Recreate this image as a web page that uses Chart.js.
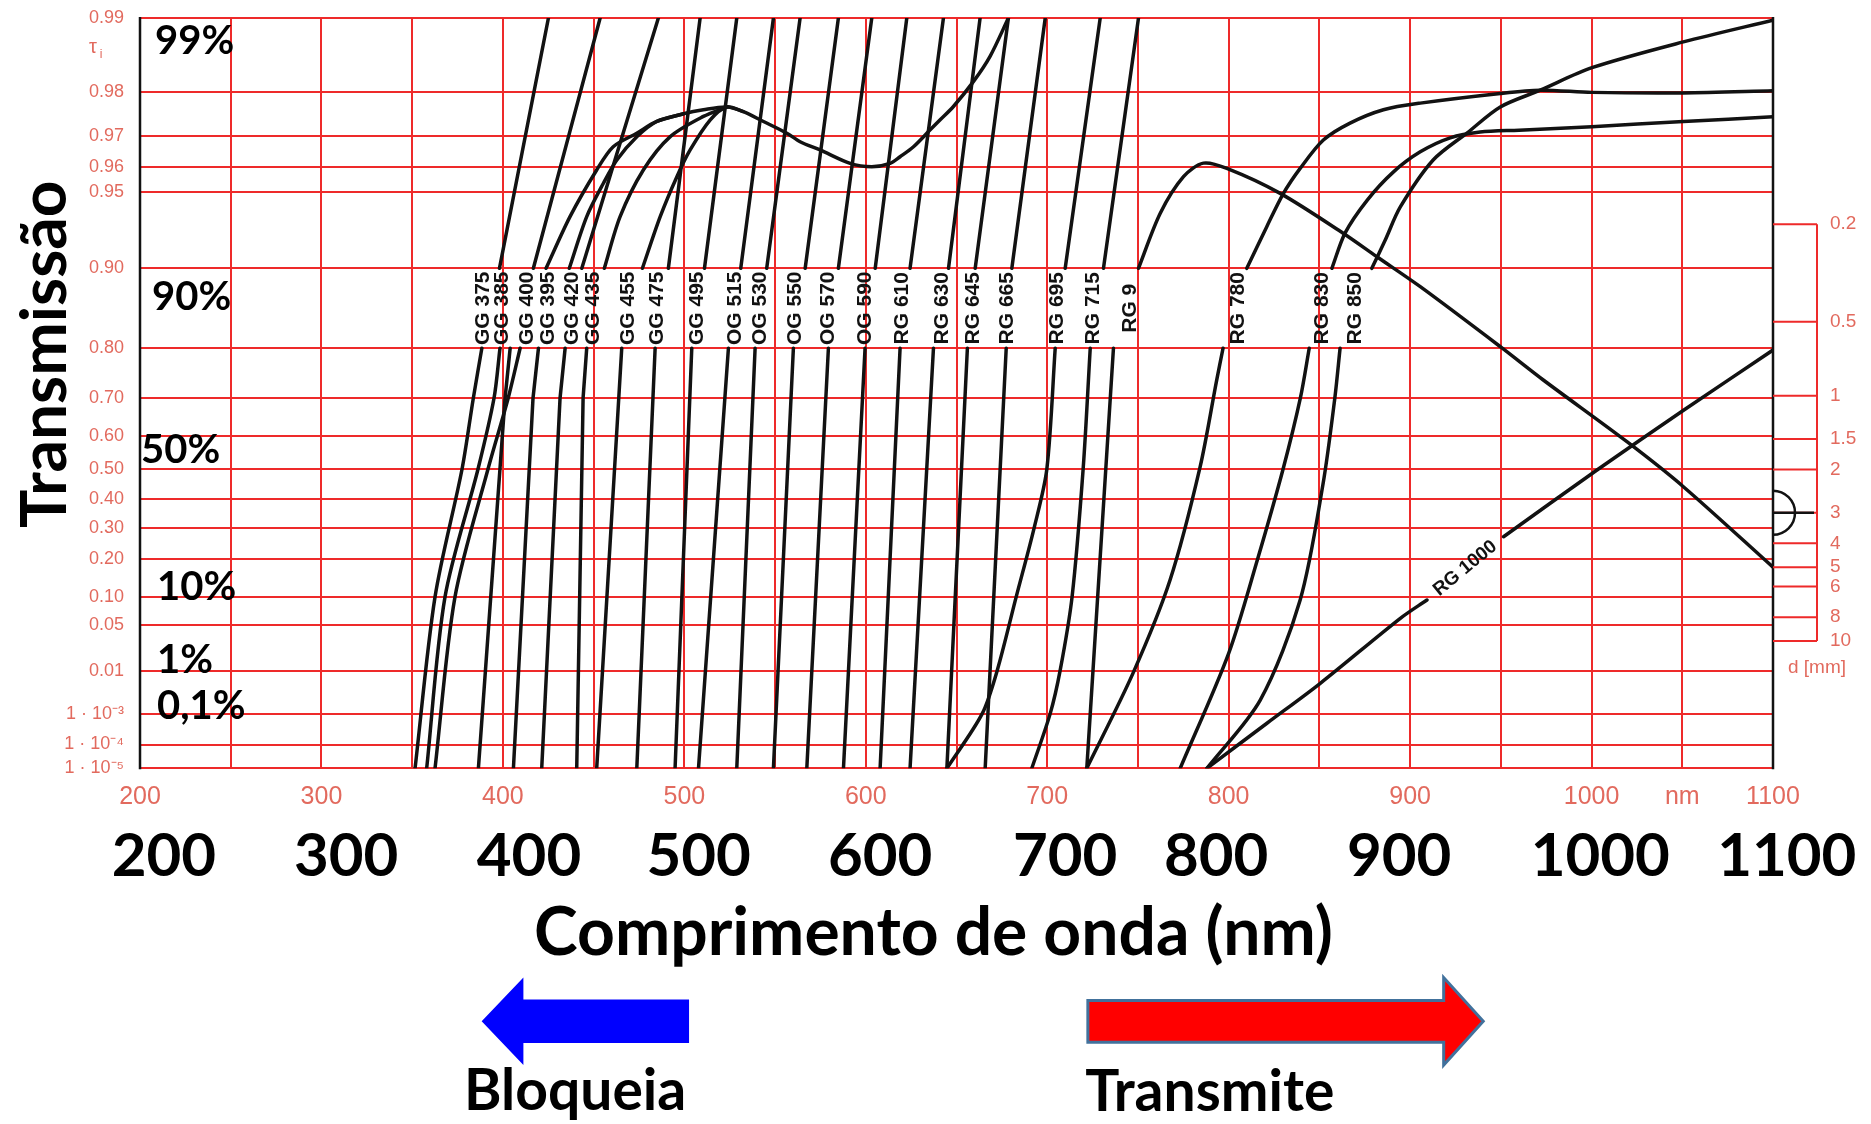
<!DOCTYPE html>
<html lang="pt">
<head>
<meta charset="utf-8">
<title>Transmissão interna de filtros de vidro colorido</title>
<script src="https://cdn.jsdelivr.net/npm/chart.js@4.4.1/dist/chart.umd.min.js"></script>
<style>
  html, body { margin: 0; padding: 0; background: #ffffff; }
  canvas { display: block; }
</style>
</head>
<body>
<canvas id="chart" width="1871" height="1124"></canvas>
<script>
// ---- Axes -------------------------------------------------------------
const waveGrid   = [200,250,300,350,400,450,500,550,600,650,700,750,800,850,900,950,1000,1050,1100];
const waveLabels = [200,300,400,500,600,700,800,900,1000,1100];
// where each large wavelength caption is centred (nm)
const waveLabelAt = [213.2,313.6,414.4,507.9,607.9,709.9,793.1,894.0,1004.8,1107.6];

// internal transmittance grid, plotted on a diabatic (log(-log T)) scale
const transTicks = [0.99,0.98,0.97,0.96,0.95,0.90,0.80,0.70,0.60,0.50,0.40,0.30,0.20,0.10,0.05,0.01,1e-3,1e-4,1e-5];

// thickness ruler (mm)
const thicknessTicks = [0.2,0.5,1,1.5,2,3,4,5,6,8,10];
const thicknessRange = [0.02885, 33.05];
const refThickness = 3;

// ---- Filter curves: [wavelength nm, internal transmittance] -----------
// null marks a break (the name band between 0.80 and 0.90, or a separate branch)
const GG375 = [[351.6,1e-5],[362.6,0.1],[377.5,0.5],[383.7,0.7],[388.4,0.8],null,[398.1,0.9],[425.1,0.99]];
const GG385 = [[358.0,1e-5],[368.1,0.1],[386.3,0.5],[395.1,0.7],[398.4,0.8],null,[416.8,0.9],[453.6,0.99]];
const GG400 = [[386.5,1e-5],[401.2,0.7],[404.0,0.8],null,[362.6,1e-5],[373.6,0.1],[391.8,0.5],[402.9,0.7],[409.5,0.8],null,
               [423.8,0.9],[437.0,0.9372],[451.7,0.959],[460.8,0.9669],[473.8,0.9708],[484.8,0.9738],[499.5,0.9756],[510.5,0.9765],[523.4,0.9771],[532.5,0.9761],[543.6,0.9738],[556.5,0.9708],[563.8,0.9684],[574.8,0.9659],[591.4,0.9614],[603.3,0.9602],[613.4,0.9614],[618.9,0.9637],[626.3,0.9669],[635.5,0.9717],[641.0,0.9742],[648.3,0.9772],[659.3,0.9819],[668.5,0.9857],[678.6,0.99]];
const GG395 = [[405.8,1e-5],[416.6,0.7],[419.6,0.8],null,[436.6,0.9],[446.2,0.9372],[455.4,0.9537],[462.8,0.9626],[473.8,0.9698],[484.8,0.9738],[499.5,0.9756]];
const GG420 = [[421.4,1e-5],[431.5,0.7],[434.3,0.8],null,[443.5,0.9],[485.7,0.99]];
const GG435 = [[440.7,1e-5],[444.2,0.7],[446.2,0.8],null,[455.9,0.9],[464.6,0.9372],[477.4,0.959],[492.1,0.9698],[510.5,0.975],[523.4,0.9771]];
const GG455 = [[451.7,1e-5],[465.5,0.8],null,[476.9,0.9],[486.7,0.9372],[495.9,0.9564],[503.2,0.9659],[514.3,0.9742],[523.4,0.9771],[532.5,0.9761]];
const GG475 = [[473.8,1e-5],[483.9,0.8],null,[491.2,0.9],[508.7,0.99]];
const GG495 = [[494.9,1e-5],[504.1,0.8],null,[511.1,0.9],[528.9,0.99]];
const OG515 = [[507.8,1e-5],[524.3,0.8],null,[531.1,0.9],[549.1,0.99]];
const OG530 = [[528.9,1e-5],[539.0,0.8],null,[545.4,0.9],[563.8,0.99]];
const OG550 = [[549.1,1e-5],[560.1,0.8],null,[566.6,0.9],[584.9,0.99]];
const OG570 = [[567.5,1e-5],[579.4,0.8],null,[584.9,0.9],[603.3,0.99]];
const OG590 = [[587.7,1e-5],[599.6,0.8],null,[605.2,0.9],[622.6,0.99]];
const RG610 = [[607.9,1e-5],[618.9,0.8],null,[624.4,0.9],[642.8,0.99]];
const RG630 = [[624.4,1e-5],[637.3,0.8],null,[645.6,0.9],[663.0,0.99]];
const RG645 = [[644.7,1e-5],[656.0,0.8],null,[660.3,0.9],[678.6,0.99]];
const RG665 = [[665.8,1e-5],[677.4,0.8],null,[680.5,0.9],[698.9,0.99]];
const RG695 = [[644.7,1e-5],[664.1,1e-3],[672.4,0.01],[682.9,0.1],[692.8,0.3],[699.8,0.5],[704.4,0.8],null,[709.9,0.9],[729.2,0.99]];
const RG715 = [[691.5,1e-5],[701.6,1e-3],[707.1,0.01],[713.7,0.1],[719.8,0.5],[723.7,0.8],null,[731.0,0.9],[750.3,0.99]];
const RG9   = [[721.8,1e-5],[736.5,0.8],null,[750.3,0.9],[762.3,0.9391],[775.1,0.9564],[786.1,0.9615],[799.0,0.9596],[828.4,0.9492],[863.1,0.9270],[881.7,0.9098],[905.6,0.8823],[949.7,0.8026],[973.4,0.7403],[1019.5,0.5847],[1050.6,0.4410],[1100,0.175]];
const RG780 = [[721.8,1e-5],[747.3,0.009],[767.7,0.14],[784.2,0.505],[793.4,0.74],[796.9,0.8],null,[810.0,0.9],[821.0,0.9312],[830.2,0.9492],[839.4,0.9596],[852.2,0.9689],[866.9,0.9734],[885.3,0.9765],[905.6,0.9779],[949.7,0.9798],[971.7,0.9804],[1000.2,0.9800],[1050.6,0.9799],[1100,0.9803]];
const RG830 = [[773.3,1e-5],[800.0,0.02],[816.0,0.2],[830.0,0.5],[839.5,0.7],[844.4,0.8],null,[856.9,0.9],[864.2,0.9272],[876.4,0.9460],[890.7,0.9582],[905.6,0.9653],[922.1,0.9695],[938.6,0.9711],[960.0,0.9716],[1000.2,0.9725],[1050.6,0.9738],[1100,0.9749]];
const RG850 = [[788.0,1e-5],[817.4,0.00232],[839.4,0.0934],[852.0,0.45],[858.5,0.7],[861.4,0.8],null,[878.9,0.9],[886.3,0.9224],[894.6,0.9425],[912.7,0.9626],[931.5,0.9709],[949.7,0.9771],[971.7,0.9804],[1000.2,0.9841],[1050.6,0.9875],[1100,0.9898]];
const RG1000 = [[788.0,1e-5],[821.1,5.3e-4],[850.5,0.0056],[894.6,0.0598],[909.3,0.0934],null,[951.5,0.270],[1003.0,0.4966],[1050.7,0.6706],[1100,0.797]];

// name, curve, wavelength where the name sits in the band between 0.80 and 0.90
const filters = [
  ['GG 375', GG375, 389.0], ['GG 385', GG385, 399.5], ['GG 400', GG400, 413.3],
  ['GG 395', GG395, 424.9], ['GG 420', GG420, 438.1], ['GG 435', GG435, 449.7],
  ['GG 455', GG455, 469.0], ['GG 475', GG475, 485.0], ['GG 495', GG495, 507.0],
  ['OG 515', OG515, 527.9], ['OG 530', OG530, 541.8], ['OG 550', OG550, 561.1],
  ['OG 570', OG570, 579.3], ['OG 590', OG590, 599.6], ['RG 610', RG610, 620.0],
  ['RG 630', RG630, 642.1], ['RG 645', RG645, 659.2], ['RG 665', RG665, 677.9],
  ['RG 695', RG695, 705.5], ['RG 715', RG715, 725.3], ['RG 9',   RG9,   745.7],
  ['RG 780', RG780, 805.3], ['RG 830', RG830, 851.6], ['RG 850', RG850, 869.8],
  ['RG 1000', RG1000, null]
];

// overlay annotations on the transmittance axis (baseline transmittance)
const pctText = ['99%','90%','50%','10%','1%','0,1%'];
const pctAt   = [0.986, 0.856, 0.52, 0.093, 0.009, 0.0007];
const pctWave = [208.3, 206.6, 200.6, 209.4, 209.4, 209.4];

// ---- Colours / fonts --------------------------------------------------
const gridRed = '#ee2a2a';
const tickRed = '#e26a5e';
const ink = '#121212';
const narrow = '"Liberation Sans Narrow", "Liberation Sans", Arial, sans-serif';
const sans = '"Liberation Sans", Arial, sans-serif';
const bold = 'Lato, "Open Sans", sans-serif';

// ---- Diabatic scale: pixel linear in ln(-ln T) ------------------------
class DiabaticScale extends Chart.Scale {
  static id = 'diabatic';
  static defaults = {};
  determineDataLimits() {
    this.min = this.options.min;
    this.max = this.options.max;
  }
  buildTicks() {
    return transTicks.map(v => ({ value: v }));
  }
  getLabelForValue(v) { return String(v); }
  _u(v) { return Math.log(-Math.log(v)); }
  getPixelForValue(v) {
    if (v === null || v === undefined || isNaN(v)) return NaN;
    const uTop = this._u(this.max), uBot = this._u(this.min);
    const t = (this._u(v) - uTop) / (uBot - uTop);
    return this.top + t * (this.bottom - this.top);
  }
  getValueForPixel(p) {
    const uTop = this._u(this.max), uBot = this._u(this.min);
    const u = uTop + (p - this.top) / (this.bottom - this.top) * (uBot - uTop);
    return Math.exp(-Math.exp(u));
  }
}
Chart.register(DiabaticScale);

const supDigits = { '3': '\u00b3', '4': '\u2074', '5': '\u2075' };
function transLabel(v) {
  if (v >= 0.01) return v.toFixed(2);
  const e = Math.round(-Math.log10(v));
  return '1 \u00b7 10\u207b' + supDigits[String(e)];
}

// split a curve at its null markers into drawable pieces
function pieces(curve) {
  const out = [[]];
  curve.forEach(p => { if (p === null) out.push([]); else out[out.length - 1].push({ x: p[0], y: p[1] }); });
  return out.filter(s => s.length > 1);
}

const datasets = [];
filters.forEach(([name, curve]) => {
  pieces(curve).forEach(seg => datasets.push({
    label: name,
    data: seg,
    borderColor: ink,
    borderWidth: 3.5,
    pointRadius: 0,
    tension: seg.length > 3 ? 0.3 : 0,
    borderCapStyle: 'round',
    borderJoinStyle: 'round',
    xAxisID: 'x',
    yAxisID: 'y'
  }));
});

// ---- Annotation drawing -----------------------------------------------
const overlay = {
  id: 'overlay',
  beforeDatasetsDraw(chart) {
    const { ctx, chartArea: a } = chart;
    ctx.save();
    ctx.strokeStyle = ink;
    ctx.lineWidth = 2.5;
    ctx.beginPath();
    ctx.moveTo(a.left, a.top - 1); ctx.lineTo(a.left, a.bottom + 1);
    ctx.moveTo(a.right, a.top - 1); ctx.lineTo(a.right, a.bottom + 1);
    ctx.stroke();
    ctx.restore();
  },
  afterDatasetsDraw(chart) {
    const { ctx, chartArea: a, scales } = chart;
    const x = scales.x, y = scales.y, yd = scales.yd;
    ctx.save();

    // filter names in the band
    const yc = (y.getPixelForValue(0.9) + y.getPixelForValue(0.8)) / 2;
    ctx.fillStyle = ink;
    ctx.font = 'bold 21px ' + sans;
    ctx.textAlign = 'center';
    ctx.textBaseline = 'middle';
    filters.forEach(([name, curve, at]) => {
      if (at === null) return;
      ctx.save();
      ctx.translate(x.getPixelForValue(at), yc);
      ctx.rotate(-Math.PI / 2);
      ctx.fillText(name, 0, 0);
      ctx.restore();
    });

    // RG 1000 name written along its own line, in the gap
    const segs = pieces(RG1000);
    const p1 = segs[0][segs[0].length - 1], p2 = segs[1][0];
    const x1 = x.getPixelForValue(p1.x), y1 = y.getPixelForValue(p1.y);
    const x2 = x.getPixelForValue(p2.x), y2 = y.getPixelForValue(p2.y);
    ctx.save();
    ctx.translate((x1 + x2) / 2, (y1 + y2) / 2);
    ctx.rotate(Math.atan2(y2 - y1, x2 - x1));
    ctx.font = 'bold 19px ' + sans;
    ctx.fillText('RG 1000', 0, 0);
    ctx.restore();

    // thickness ruler on the right
    const xr = a.right, xl = a.right + 44;
    ctx.strokeStyle = gridRed;
    ctx.lineWidth = 2;
    ctx.beginPath();
    ctx.moveTo(xl, yd.getPixelForValue(thicknessTicks[0]));
    ctx.lineTo(xl, yd.getPixelForValue(thicknessTicks[thicknessTicks.length - 1]));
    thicknessTicks.forEach(d => {
      const py = yd.getPixelForValue(d);
      ctx.moveTo(xr, py); ctx.lineTo(xl, py);
    });
    ctx.stroke();
    ctx.fillStyle = tickRed;
    ctx.font = '19px ' + narrow;
    ctx.textAlign = 'left';
    ctx.textBaseline = 'middle';
    thicknessTicks.forEach(d => ctx.fillText(String(d), xl + 13, yd.getPixelForValue(d)));
    ctx.textAlign = 'center';
    ctx.fillText('d [mm]', xl, yd.getPixelForValue(thicknessTicks[thicknessTicks.length - 1]) + 27);

    // reference thickness marker
    const pr = yd.getPixelForValue(refThickness);
    ctx.strokeStyle = ink;
    ctx.lineWidth = 2.5;
    ctx.beginPath();
    ctx.arc(xr, pr, 22, -Math.PI / 2, Math.PI / 2);
    ctx.moveTo(xr, pr); ctx.lineTo(xl - 3, pr);
    ctx.stroke();

    // tau_i symbol on the transmittance axis
    ctx.fillStyle = tickRed;
    ctx.textAlign = 'center';
    ctx.textBaseline = 'alphabetic';
    ctx.font = '20px ' + sans;
    const ty = y.getPixelForValue(0.9862);
    ctx.fillText('\u03c4', a.left - 47, ty);
    ctx.font = '12px ' + sans;
    ctx.fillText('i', a.left - 39, ty + 5);

    // percentage callouts
    ctx.fillStyle = '#000';
    ctx.font = 'bold 40px ' + bold;
    ctx.textAlign = 'left';
    pctText.forEach((t, i) => ctx.fillText(t, x.getPixelForValue(pctWave[i]), y.getPixelForValue(pctAt[i])));
    ctx.restore();
  },
  afterDraw(chart) {
    const { ctx, chartArea: a, scales } = chart;
    const x = scales.x;
    ctx.save();
    ctx.fillStyle = '#000';
    ctx.textBaseline = 'alphabetic';

    // axis titles
    ctx.font = 'bold 66px ' + bold;
    ctx.textAlign = 'center';
    ctx.fillText('Comprimento de onda (nm)', x.getPixelForValue(637.3), a.bottom + 187);
    ctx.save();
    ctx.translate(66, (a.top + a.bottom) / 2 - 39);
    ctx.rotate(-Math.PI / 2);
    ctx.font = 'bold 64px ' + bold;
    ctx.fillText('Transmissão', 0, 0);
    ctx.restore();

    // blocking / transmitting arrows
    const ay = a.bottom + 253, half = 21.7, head = 43.7;
    const bTip = x.getPixelForValue(388.3), bBase = x.getPixelForValue(411.3), bTail = x.getPixelForValue(502.6);
    ctx.fillStyle = '#0000ff';
    ctx.beginPath();
    ctx.moveTo(bTip, ay);
    ctx.lineTo(bBase, ay - head); ctx.lineTo(bBase, ay - half);
    ctx.lineTo(bTail, ay - half); ctx.lineTo(bTail, ay + half);
    ctx.lineTo(bBase, ay + half); ctx.lineTo(bBase, ay + head);
    ctx.closePath();
    ctx.fill();

    const rTail = x.getPixelForValue(722.4), rBase = x.getPixelForValue(918.5), rTip = x.getPixelForValue(940.3);
    ctx.fillStyle = '#ff0000';
    ctx.strokeStyle = '#41719c';
    ctx.lineWidth = 3;
    ctx.lineJoin = 'miter';
    ctx.beginPath();
    ctx.moveTo(rTail, ay - half * 0.96); ctx.lineTo(rBase, ay - half * 0.96);
    ctx.lineTo(rBase, ay - head); ctx.lineTo(rTip, ay);
    ctx.lineTo(rBase, ay + head); ctx.lineTo(rBase, ay + half * 0.96);
    ctx.lineTo(rTail, ay + half * 0.96);
    ctx.closePath();
    ctx.fill();
    ctx.stroke();

    ctx.fillStyle = '#000';
    ctx.font = 'bold 57px ' + bold;
    ctx.fillText('Bloqueia', x.getPixelForValue(439.8), a.bottom + 342);
    ctx.fillText('Transmite', x.getPixelForValue(789.6), a.bottom + 343);
    ctx.restore();
  }
};

// ---- Chart --------------------------------------------------------------
new Chart(document.getElementById('chart'), {
  type: 'line',
  data: { datasets },
  plugins: [overlay],
  options: {
    responsive: false,
    animation: false,
    devicePixelRatio: 1,
    events: [],
    layout: { padding: { left: 0, top: 18, right: 98, bottom: 157.7 } },
    plugins: { legend: { display: false }, tooltip: { enabled: false } },
    scales: {
      x: {
        type: 'linear', min: 200, max: 1100, position: 'bottom', weight: 0,
        afterBuildTicks: s => { s.ticks = waveGrid.map(v => ({ value: v })); },
        afterFit: s => { s.height = 48; s.paddingLeft = 0; s.paddingRight = 0; },
        grid: { color: gridRed, lineWidth: 2, drawTicks: false },
        border: { display: false },
        ticks: {
          autoSkip: false, maxRotation: 0, padding: 14, color: tickRed,
          font: { family: narrow, size: 25 },
          callback: v => (v % 100 === 0 ? String(v) : (v === 1050 ? 'nm' : ''))
        }
      },
      x2: {
        type: 'linear', axis: 'x', min: 200, max: 1100, position: 'bottom', weight: 1,
        afterBuildTicks: s => { s.ticks = waveLabelAt.map(v => ({ value: v })); },
        afterFit: s => { s.height = 150; s.paddingLeft = 0; s.paddingRight = 0; },
        grid: { display: false, drawTicks: false },
        border: { display: false },
        ticks: {
          autoSkip: false, maxRotation: 0, padding: 10.7, color: '#000',
          font: { family: bold, size: 60, weight: 'bold', lineHeight: 1 },
          callback: (v, i) => String(waveLabels[i])
        }
      },
      y: {
        type: 'diabatic', min: 1e-5, max: 0.99, position: 'left',
        afterFit: s => { s.width = 140; s.paddingTop = 0; s.paddingBottom = 0; },
        grid: { color: gridRed, lineWidth: 2, drawTicks: false },
        border: { display: false },
        ticks: {
          autoSkip: false, padding: 16, color: tickRed,
          font: { family: sans, size: 18 },
          callback: v => transLabel(v)
        }
      },
      yd: {
        type: 'logarithmic', display: false, position: 'right', reverse: true,
        min: thicknessRange[0], max: thicknessRange[1],
        afterFit: s => { s.paddingTop = 0; s.paddingBottom = 0; }
      }
    }
  }
});
</script>
</body>
</html>
